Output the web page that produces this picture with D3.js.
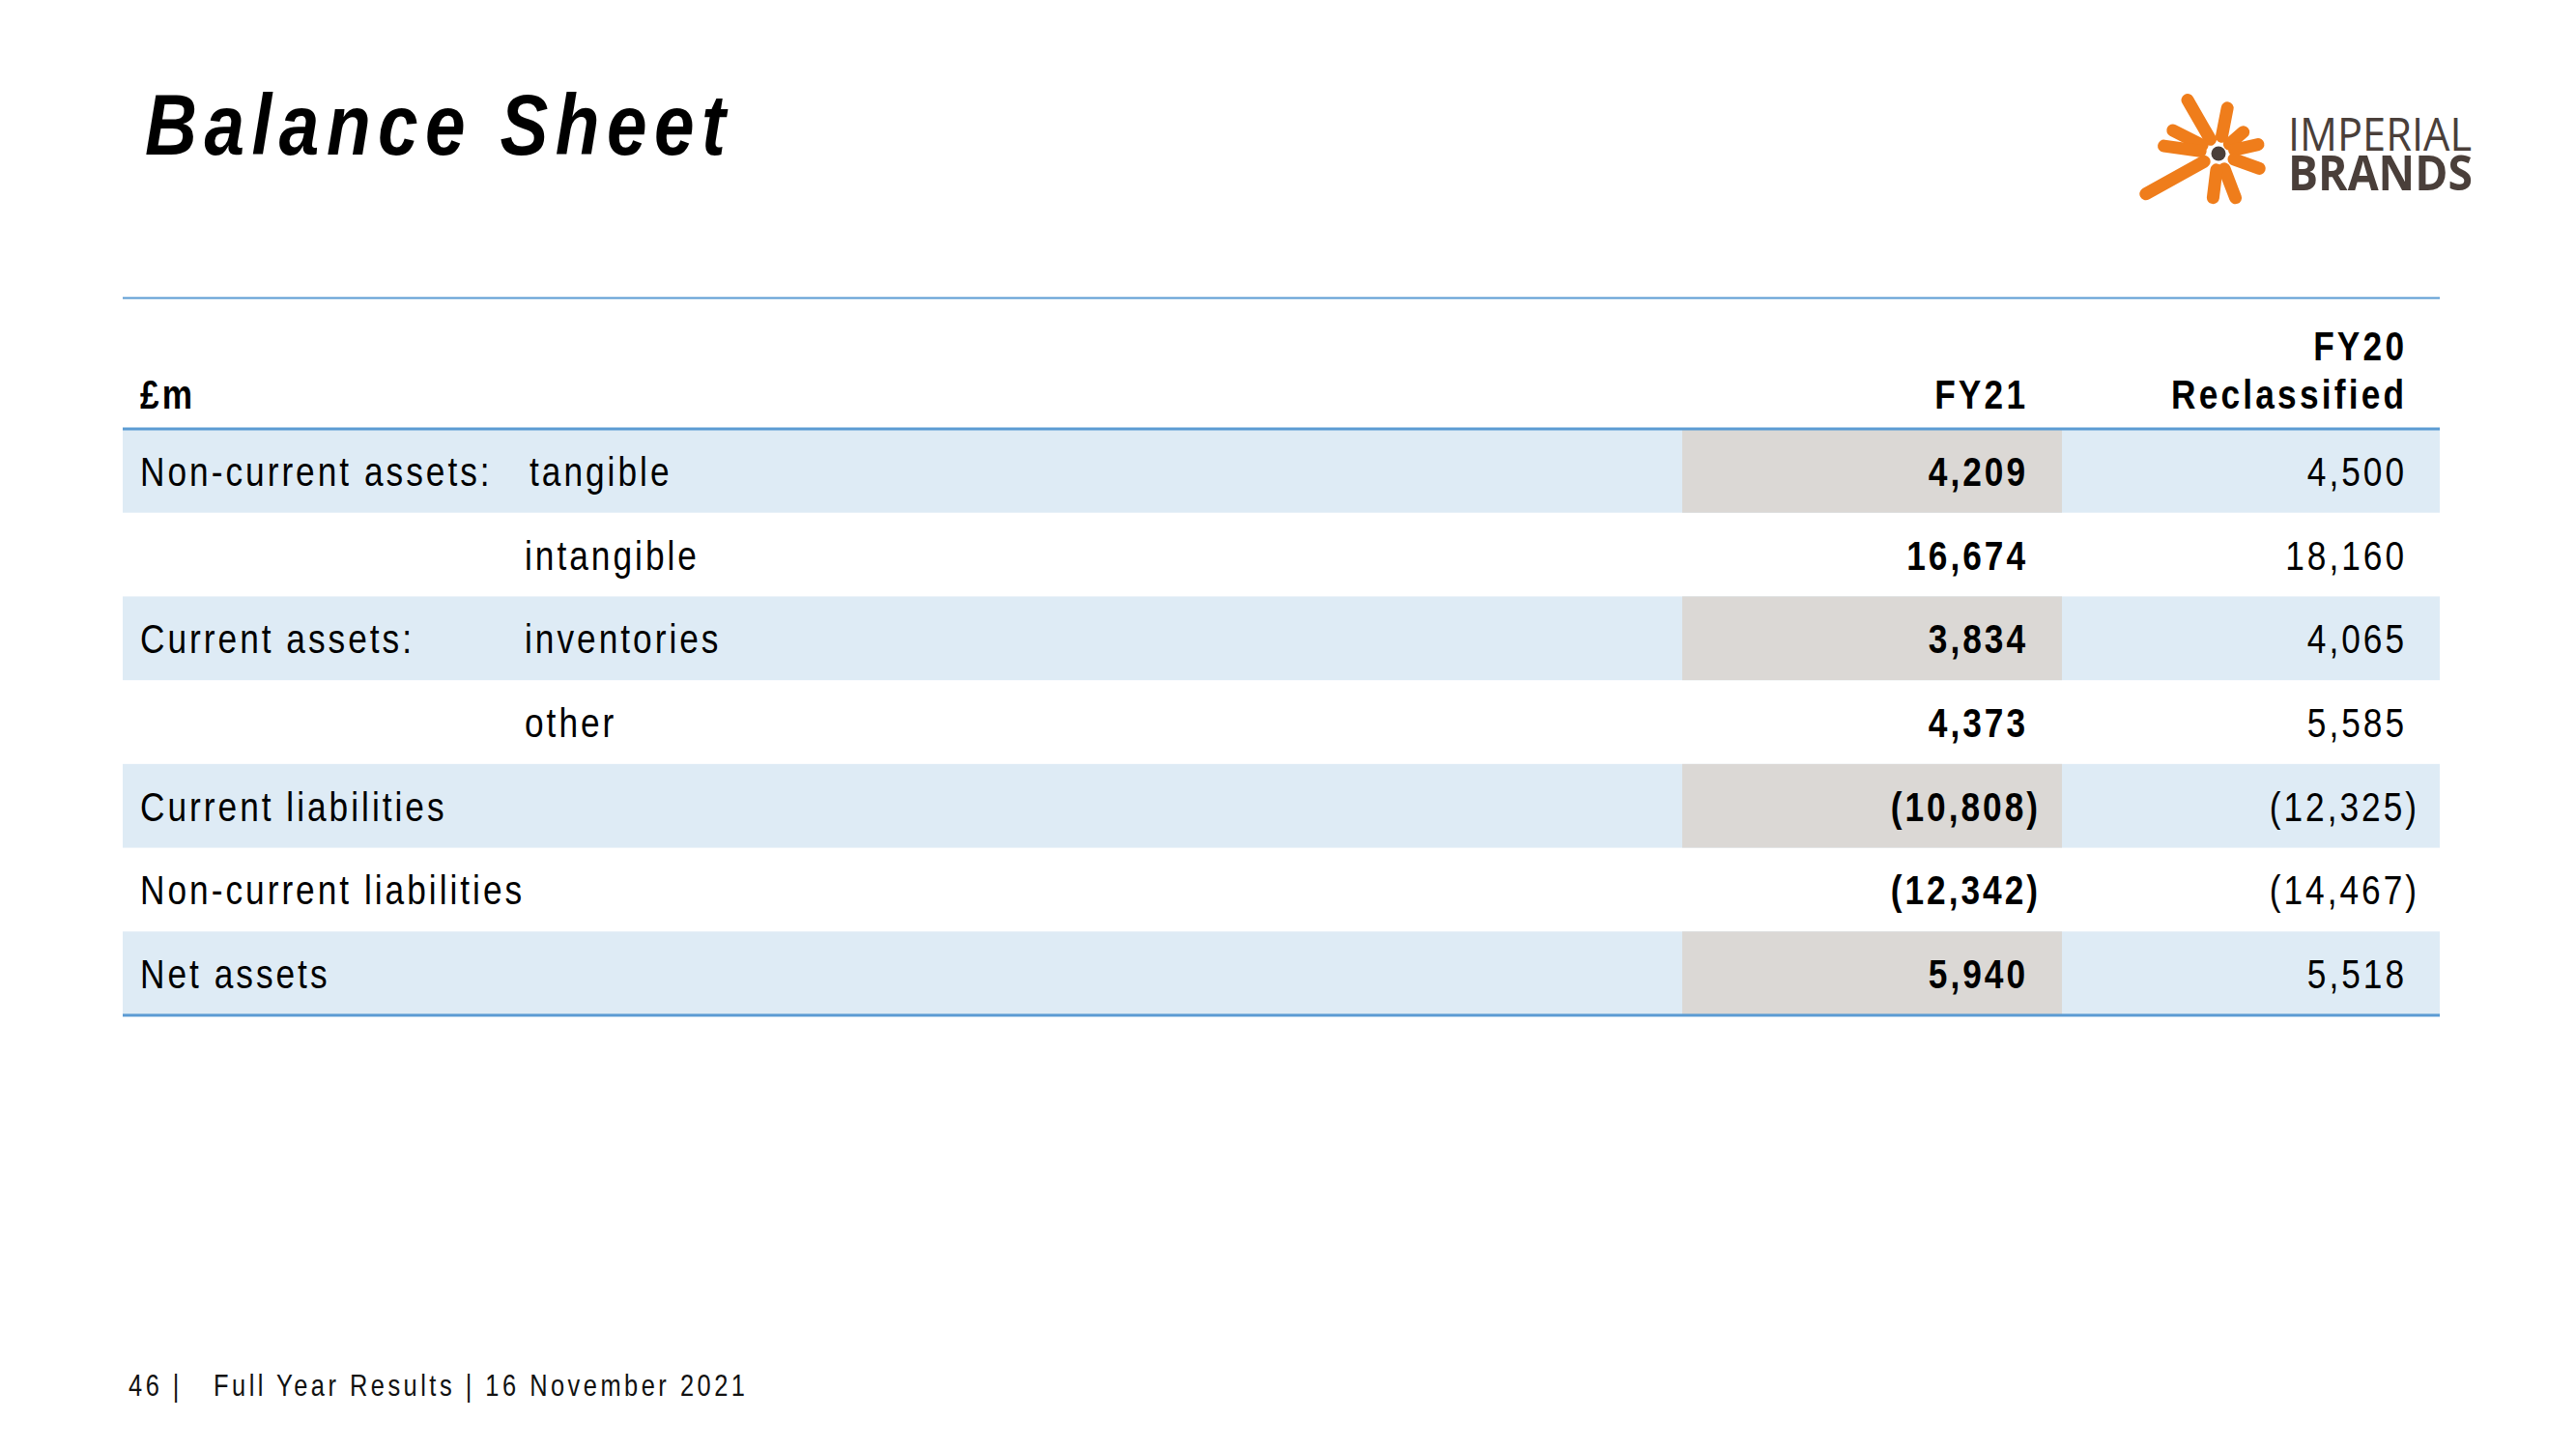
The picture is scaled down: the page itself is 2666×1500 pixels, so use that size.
<!DOCTYPE html>
<html>
<head>
<meta charset="utf-8">
<script src="https://cdn.jsdelivr.net/npm/d3@7"></script>
<style>
  html, body { margin: 0; padding: 0; background: #ffffff; }
  svg { display: block; }
</style>
</head>
<body>
<script>
// ---------------- DATA ----------------
const title = "Balance Sheet";
const unitLabel = "£m";
const columnHeaders = [["FY21"], ["FY20", "Reclassified"]];
const rowLabels = ["Non-current assets:", "", "Current assets:", "", "Current liabilities", "Non-current liabilities", "Net assets"];
const subLabels = ["tangible", "intangible", "inventories", "other", "", "", ""];
const fy21 = [4209, 16674, 3834, 4373, -10808, -12342, 5940];
const fy20 = [4500, 18160, 4065, 5585, -12325, -14467, 5518];
const footerPage = "46 |";
const footerText = "Full Year Results | 16 November 2021";
const logoWords = ["IMPERIAL", "BRANDS"];

// ---------------- LAYOUT ----------------
const W = 2666, H = 1500;
const FONT = "'Liberation Sans', Arial, Helvetica, sans-serif";
const SX = 0.82; // condensed look
const BLUE_LINE = "#5b9bd3";
const BAND = "#deebf5";
const GREY = "#dbd8d5";

const svg = d3.select("body").append("svg")
  .attr("width", W).attr("height", H)
  .attr("viewBox", `0 0 ${W} ${H}`);

svg.append("rect").attr("width", W).attr("height", H).attr("fill", "#fff");

function txt(parent, x, y, str, o) {
  o = Object.assign({size: 43, weight: "normal", style: "normal", anchor: "start", sx: SX, ls: 3, fill: "#000", family: FONT}, o || {});
  const dx = o.anchor === "end" ? o.ls : 0;
  return parent.append("text")
    .attr("transform", `translate(${x + dx},${y}) scale(${o.sx},1)`)
    .attr("text-anchor", o.anchor)
    .style("font-family", o.family)
    .style("font-size", o.size + "px")
    .style("font-weight", o.weight)
    .style("font-style", o.style)
    .style("letter-spacing", (o.ls / o.sx) + "px")
    .attr("fill", o.fill)
    .text(str);
}

// Title
txt(svg, 150, 160, title, {size: 89, weight: "bold", style: "italic", sx: 0.84, ls: 7.5});

// ---------------- TABLE ----------------
const tableLeft = 127, tableRight = 2525;
const tableTop = 444, tableBottom = 1051;
const y = d3.scaleBand().domain(d3.range(rowLabels.length)).range([tableTop, tableBottom]).padding(0);
const col = d3.scaleOrdinal().domain(["FY21", "FY20"]).range([2096, 2488]);
const greyLeft = 1741, greyRight = 2134;
const labelX = 145, subX = 543;

const g = svg.append("g");

const rows = g.selectAll("g.row").data(d3.range(rowLabels.length)).join("g").attr("class", "row");
rows.filter(i => i % 2 === 0).append("rect")
  .attr("x", tableLeft).attr("width", tableRight - tableLeft)
  .attr("y", i => y(i)).attr("height", y.bandwidth())
  .attr("fill", BAND);
rows.filter(i => i % 2 === 0).append("rect")
  .attr("x", greyLeft).attr("width", greyRight - greyLeft)
  .attr("y", i => y(i)).attr("height", y.bandwidth())
  .attr("fill", GREY);

g.append("line").attr("x1", tableLeft).attr("x2", tableRight).attr("y1", 308.5).attr("y2", 308.5)
  .attr("stroke", BLUE_LINE).attr("stroke-width", 2);
g.append("line").attr("x1", tableLeft).attr("x2", tableRight).attr("y1", tableTop).attr("y2", tableTop)
  .attr("stroke", BLUE_LINE).attr("stroke-width", 3);
g.append("line").attr("x1", tableLeft).attr("x2", tableRight).attr("y1", tableBottom).attr("y2", tableBottom)
  .attr("stroke", BLUE_LINE).attr("stroke-width", 3);

// header
const HDR = {weight: "bold", size: 43, ls: 3.2};
txt(g, labelX, 423, unitLabel, HDR);
txt(g, col("FY21"), 423, columnHeaders[0][0], Object.assign({anchor: "end"}, HDR));
txt(g, col("FY20"), 373, columnHeaders[1][0], Object.assign({anchor: "end"}, HDR));
txt(g, col("FY20"), 423, columnHeaders[1][1], Object.assign({anchor: "end"}, HDR));

// rows
const fmt = d3.format(",");
const fmtVal = v => v < 0 ? "(" + fmt(-v) + ")" : fmt(v);
const HANG = 13;
rows.each(function(i) {
  const r = d3.select(this);
  const by = y(i) + y.bandwidth() / 2 + 15.5;
  if (rowLabels[i]) txt(r, labelX, by, rowLabels[i]);
  if (subLabels[i]) txt(r, subX + (i === 0 ? 5 : 0), by, subLabels[i]);
  txt(r, col("FY21") + (fy21[i] < 0 ? HANG : 0), by, fmtVal(fy21[i]), {weight: "bold", anchor: "end"});
  txt(r, col("FY20") + (fy20[i] < 0 ? HANG : 0), by, fmtVal(fy20[i]), {anchor: "end"});
});

// ---------------- FOOTER ----------------
txt(svg, 133, 1445, footerPage, {size: 31, ls: 3.5, fill: "#111"});
txt(svg, 221, 1445, footerText, {size: 31, ls: 3.5, fill: "#111"});

// ---------------- LOGO ----------------
const logo = svg.append("g").attr("transform", "translate(2296,159)");
const ORANGE = "#ef7d1b";
const BROWN = "#4a3f3a";
// arms: [angle deg, inner radius, outer radius]
const arms = [[-120, 17, 64], [-79, 18, 48], [-41, 15, 34], [-13, 17, 42], [20, 17, 45],
              [69, 17, 49], [97, 17, 46], [151, 17, 86], [-153, 19, 53], [-172, 19, 57]];
logo.selectAll("line.arm").data(arms).join("line").attr("class", "arm")
  .attr("x1", d => d[1] * Math.cos(d[0] * Math.PI / 180))
  .attr("y1", d => d[1] * Math.sin(d[0] * Math.PI / 180))
  .attr("x2", d => d[2] * Math.cos(d[0] * Math.PI / 180))
  .attr("y2", d => d[2] * Math.sin(d[0] * Math.PI / 180))
  .attr("stroke", ORANGE).attr("stroke-width", 13).attr("stroke-linecap", "round");
logo.append("circle").attr("r", 7.5).attr("fill", BROWN);

svg.append("text").attr("x", 2368).attr("y", 156)
  .attr("textLength", 190).attr("lengthAdjust", "spacingAndGlyphs")
  .style("font-family", "'Open Sans', 'Noto Sans', sans-serif").style("font-size", "48px")
  .style("font-weight", 400).attr("fill", BROWN).text(logoWords[0]);
svg.append("text").attr("x", 2368).attr("y", 197)
  .attr("textLength", 191).attr("lengthAdjust", "spacingAndGlyphs")
  .style("font-family", "'Open Sans', 'Noto Sans', sans-serif").style("font-size", "51px")
  .style("font-weight", 700).attr("fill", BROWN).text(logoWords[1]);
</script>
</body>
</html>
